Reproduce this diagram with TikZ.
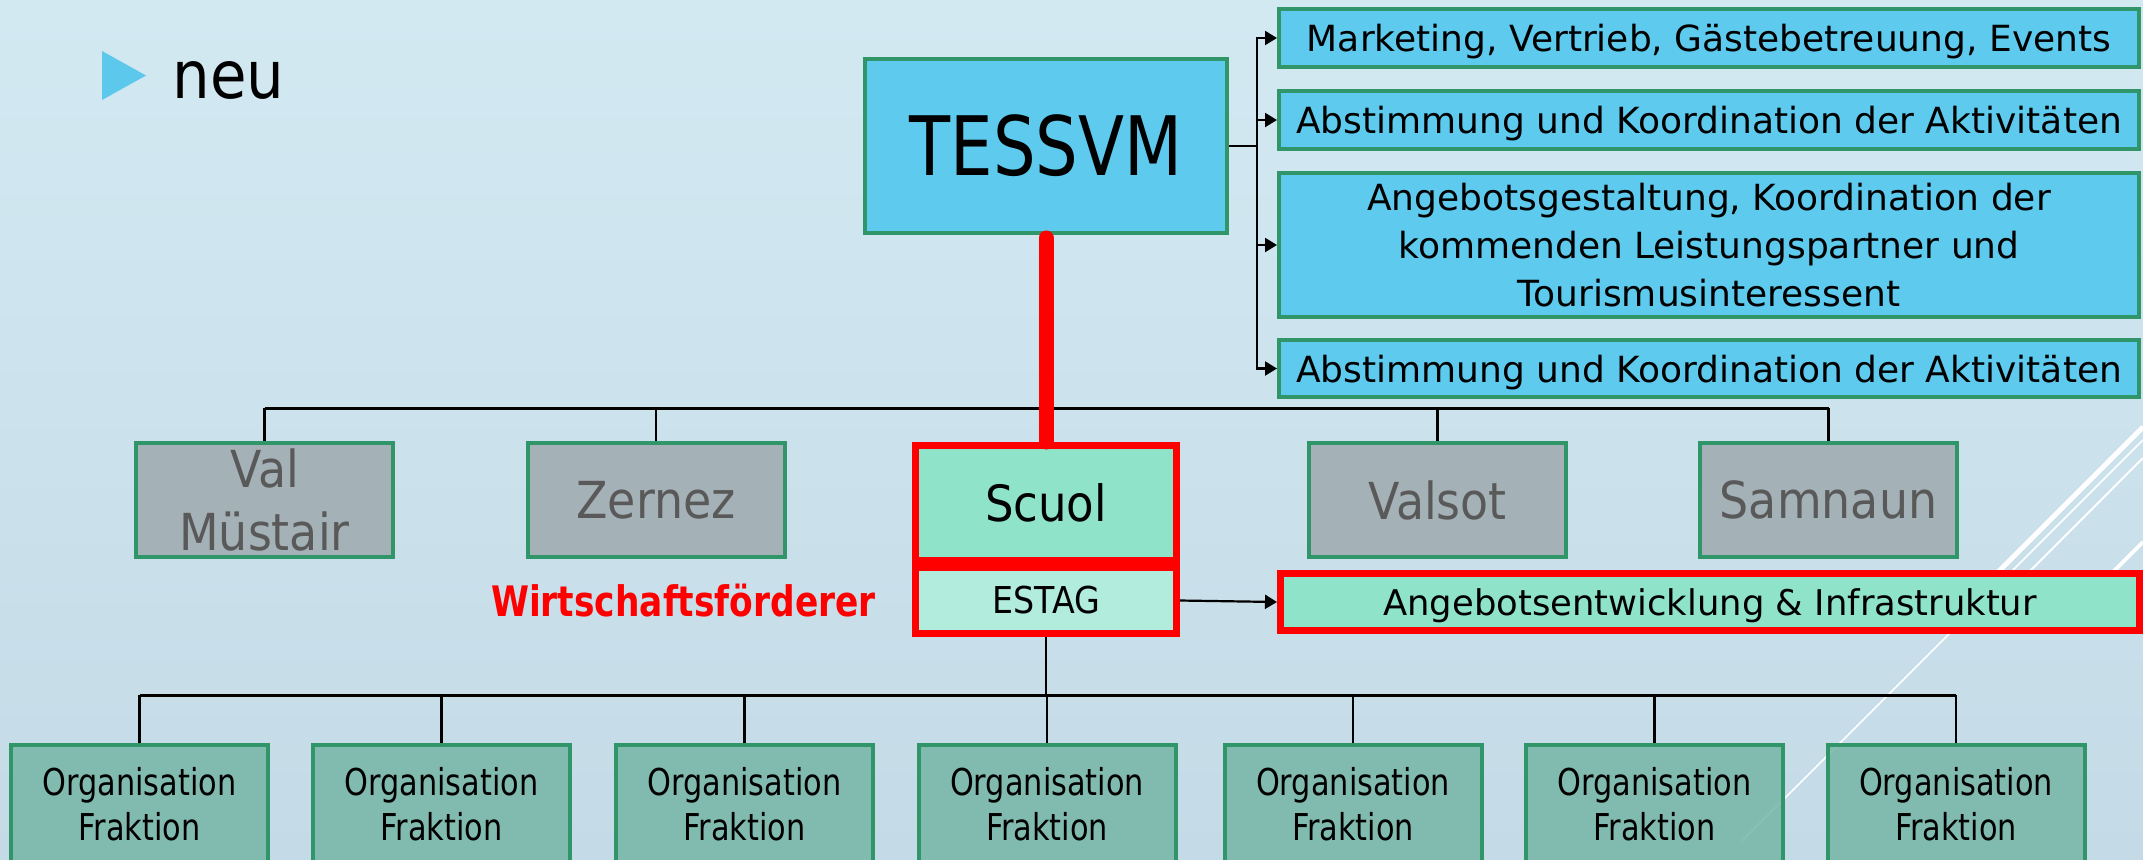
\documentclass[tikz,border=0pt]{standalone}
\usepackage{fontspec}
\setmainfont{DejaVu Sans}
\newfontfamily\fA{DejaVu Sans}
\newfontfamily\fB[FakeStretch=0.82]{DejaVu Sans}
\newfontfamily\fC[FakeStretch=0.9]{DejaVu Sans}
\usetikzlibrary{arrows.meta}
\definecolor{bgtop}{HTML}{D3E9F2}
\definecolor{bgbot}{HTML}{C4DBE7}
\definecolor{cyanfill}{HTML}{5DCAEE}
\definecolor{greenline}{HTML}{31956A}
\definecolor{grayfill}{HTML}{A4B1B7}
\definecolor{graytext}{HTML}{595959}
\definecolor{mint}{HTML}{8EE3C8}
\definecolor{mintlight}{HTML}{B2ECDC}
\definecolor{orgfill}{HTML}{76B6A6}
\definecolor{bulletc}{HTML}{5BC8EC}
\begin{document}
\begin{tikzpicture}[x=0.5pt,y=-0.5pt,
  box/.style={draw=greenline, line width=2pt, rectangle, inner sep=0pt, align=center, text=black},
  cyanbox/.style={box, fill=cyanfill, font=\fA\fontsize{18}{24}\selectfont},
  oneline/.style={text depth=0pt},
  townbox/.style={box, fill=grayfill, text=graytext, minimum width=128.5pt, minimum height=57pt, font=\fC\fontsize{25.5}{31.5}\selectfont},
  redbox/.style={draw=red, line width=3.5pt, rectangle, inner sep=0pt, align=center, text=black},
  orgbox/.style={box, fill=orgfill, fill opacity=0.85, text opacity=1, draw opacity=1, minimum width=128.5pt, minimum height=59pt, font=\fB\fontsize{18.5}{22.5}\selectfont},
  conn/.style={line width=1.1pt, black},
  bus/.style={line width=1.5pt, black},
  arr/.style={conn, -{Triangle[length=6pt,width=7pt]}},
  bgline/.style={white},
]
\useasboundingbox (0,0) rectangle (2143,859);
\clip (0,0) rectangle (2143,859);
\shade[top color=bgtop, bottom color=bgbot] (0,0) rectangle (2143,859);

% background decoration lines
\draw[bgline, line width=2.5pt] (2143,427) -- (1995,575);
\draw[bgline, line width=0.8pt] (2143,440) -- (1742,841);
\draw[bgline, line width=1pt] (2143,458) -- (2028,573);
\draw[bgline, line width=1.8pt] (2143,542) -- (2112,573);

% title
\fill[bulletc] (102,51) -- (146,75.5) -- (102,100) -- cycle;
\node[font=\fC\fontsize{33}{38}\selectfont, anchor=base west, inner sep=0pt] (neu) at (172,98) {neu};

% top box and tasks
\node[box, fill=cyanfill, minimum width=181pt, minimum height=87pt, font=\fB\fontsize{41}{48}\selectfont] (tess) at (1046,146) {TESSVM};
\node[cyanbox, oneline, minimum width=430pt, minimum height=29pt] (r1) at (1709,38) {Marketing, Vertrieb, Gästebetreuung, Events};
\node[cyanbox, oneline, minimum width=430pt, minimum height=29pt] (r2) at (1709,120) {Abstimmung und Koordination der Aktivitäten};
\node[cyanbox, minimum width=430pt, minimum height=72pt] (r3) at (1709,245) {Angebotsgestaltung, Koordination der\\kommenden Leistungspartner und\\Tourismusinteressent};
\node[cyanbox, oneline, minimum width=430pt, minimum height=28.5pt] (r4) at (1709,368.5) {Abstimmung und Koordination der Aktivitäten};

% municipalities
\node[townbox] (vm) at (264.5,500) {Val\\Müstair};
\node[townbox] (zer) at (656,500) {Zernez};
\node[townbox] (val) at (1437.5,500) {Valsot};
\node[townbox] (sam) at (1828.5,500) {Samnaun};
\node[redbox, fill=mint, minimum width=130.5pt, minimum height=57.5pt, font=\fC\fontsize{25}{30}\selectfont] (scuol) at (1046,503) {Scuol};
\node[redbox, fill=mintlight, minimum width=130.5pt, minimum height=33pt, font=\fC\fontsize{18.5}{22}\selectfont] (estag) at (1046,600.5) {ESTAG};
\node[redbox, oneline, fill=mint, minimum width=429.5pt, minimum height=28.5pt, font=\fA\fontsize{17.7}{24}\selectfont] (ang) at (1710,602) {Angebotsentwicklung \& Infrastruktur};
\node[font=\fB\bfseries\fontsize{21}{25}\selectfont, text=red, inner sep=0pt] (wf) at (683.5,601) {Wirtschaftsförderer};

% organisations
\foreach \i/\x in {1/139.5,2/441.5,3/744.5,4/1047,5/1353,6/1654.5,7/1956}
  \node[orgbox] (o\i) at (\x,804) {Organisation\\Fraktion};

% connectors
\coordinate (bk) at (1257,146);
\draw[conn] (tess.east) -- (bk);
\foreach \r in {r1,r2,r3,r4} \draw[arr] (bk) |- (\r.west);

\coordinate (b1) at (1046,408);
\draw[bus] (vm.north |- b1) -- (sam.north |- b1);
\foreach \t in {vm,zer,val,sam} \draw[conn] (\t.north |- b1) -- (\t.north);
\draw[red, line width=7.5pt, line cap=round] ([yshift=-1.5pt]tess.south) -- (scuol.north);

\coordinate (b2) at (1046,695);
\draw[bus] (o1.north |- b2) -- (o7.north |- b2);
\foreach \i in {1,...,7} \draw[conn] (o\i.north |- b2) -- (o\i.north);
\draw[conn] (estag.south) -- (b2);
\draw[arr] (estag.east) -- (ang.west);
\end{tikzpicture}
\end{document}
